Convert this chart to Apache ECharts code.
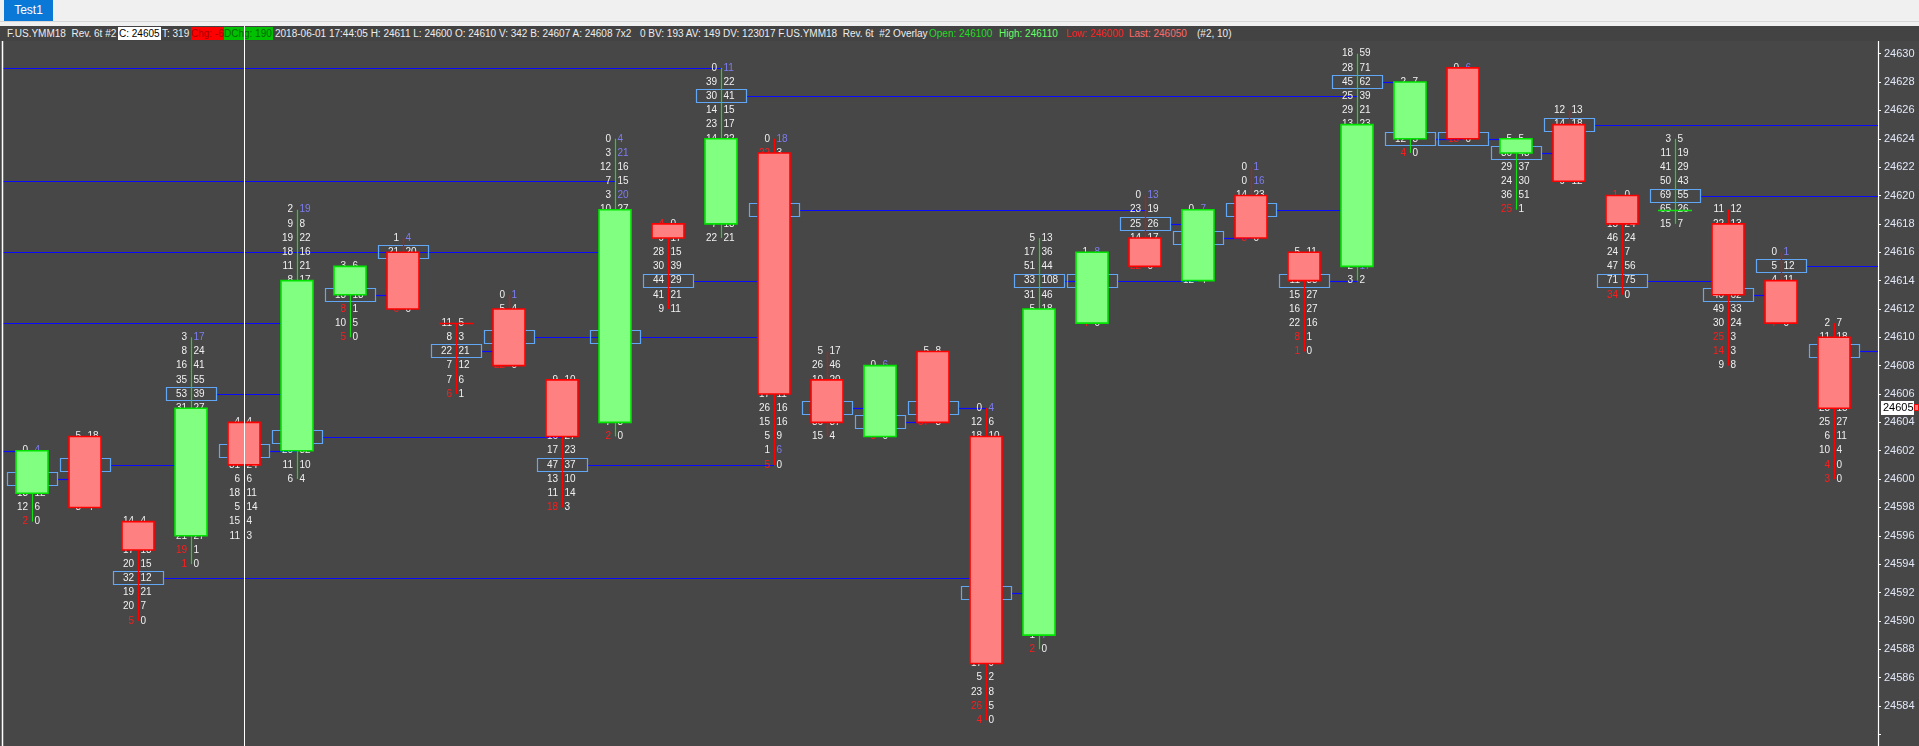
<!DOCTYPE html>
<html><head><meta charset="utf-8">
<script src="https://cdn.jsdelivr.net/npm/echarts@6/dist/echarts.min.js"></script>
<style>
html,body{margin:0;padding:0;background:#474747;overflow:hidden;width:1919px;height:746px}
#chart{position:absolute;left:0;top:0;width:1919px;height:746px}
#tabbar{position:absolute;left:0;top:0;width:1919px;height:26px;background:#f0f0f0;z-index:5}
#tabbar .ln{position:absolute;left:0;top:21px;width:1919px;height:1px;background:#d6d6d6}
#tab{position:absolute;left:4px;top:0;width:49px;height:21px;background:#0a78d7;color:#fff;font:12px 'Liberation Sans',Arial,sans-serif;line-height:21px;text-align:center}
#hdr{position:absolute;left:0;top:26px;width:1919px;height:15px;background:#434343;z-index:5;font:10px 'Liberation Sans',Arial,sans-serif;color:#ededed}
#hdr span{position:absolute;top:1px;height:13px;line-height:13px;white-space:pre}
#hdr .xh{position:absolute;left:244px;top:0;width:1px;height:15px;background:#fff}
</style>
</head><body>
<div id="chart"></div>
<div id="tabbar"><div class="ln"></div><div id="tab">Test1</div></div>
<div id="hdr">
<span style="left:7px">F.US.YMM18  Rev. 6t #2</span>
<span style="left:118px;width:42px;background:#fff;color:#000;padding-left:1px">C: 24605</span>
<span style="left:162px">T: 319</span>
<span style="left:191px;width:33px;background:#ff0000;color:#a80000">Chg: -6</span>
<span style="left:224px;width:49px;background:#00c000;color:#006a00">DChg: 190</span>
<span style="left:275px">2018-06-01 17:44:05 H: 24611 L: 24600 O: 24610 V: 342 B: 24607 A: 24608 7x2</span>
<span style="left:640px">0 BV: 193 AV: 149 DV: 123017 F.US.YMM18  Rev. 6t  #2 Overlay</span>
<span style="left:929px;color:#22dd22">Open: 246100</span>
<span style="left:999px;color:#66ff66">High: 246110</span>
<span style="left:1066px;color:#ff2020">Low: 246000</span>
<span style="left:1129px;color:#ff6a6a">Last: 246050</span>
<span style="left:1197px">(#2, 10)</span>
<div class="xh"></div>
</div>
<script>
const _ = null;
function gap(n){ return Array(n).fill(null); }

// ---- bar data (6-tick reversal bars) ----
const candleOpen  = [24599,24603,24597,24596,24604,24602,24613,24616,24611,24612,24607,24604,24618,24618,24623,24607,24603,24609,24603,24589,24611,24617,24614,24620,24616,24615,24624,24629,24623,24625,24620,24619,24618,24614,24610];
const candleClose = [24602,24598,24595,24605,24601,24614,24615,24612,24611,24608,24603,24619,24617,24624,24606,24604,24608,24604,24587,24612,24616,24615,24619,24617,24614,24625,24628,24624,24624,24621,24618,24619,24613,24611,24605];
const candleLow   = [24597,24598,24590,24594,24596,24600,24610,24612,24606,24608,24598,24603,24612,24617,24601,24603,24603,24604,24583,24588,24611,24615,24614,24617,24609,24614,24623,24624,24619,24621,24613,24618,24608,24611,24600];
const candleHigh  = [24602,24603,24597,24610,24604,24619,24615,24617,24611,24613,24607,24624,24618,24629,24624,24609,24608,24609,24605,24617,24616,24620,24619,24622,24616,24630,24628,24629,24624,24626,24620,24624,24619,24616,24611];
const barDirection = [1,-1,-1,1,-1,1,1,-1,-1,-1,-1,1,-1,1,-1,-1,1,-1,-1,1,1,-1,1,-1,-1,1,1,-1,1,-1,-1,1,-1,-1,-1];
const pocPrice    = [24600,24601,24593,24606,24602,24603,24613,24616,24609,24610,24601,24610,24614,24627,24619,24605,24604,24605,24592,24614,24614,24618,24617,24619,24614,24628,24624,24624,24623,24625,24614,24620,24613,24615,24609];

// footprint rows, from each bar's high downwards (null = hidden under the body)
const fpBid = [
 [0,_,_,13,12,2],
 [5,_,_,_,_,8],
 [14,_,17,20,32,19,20,5],
 [3,8,16,35,53,31,...gap(8),21,19,1],
 [4,_,_,31,6,18,5,15,11],
 [2,9,19,18,11,8,...gap(11),20,11,6],
 [3,_,13,8,10,5],
 [1,21,_,_,_,6],
 [11,8,22,7,7,6],
 [0,5,_,_,_,22],
 [9,_,_,_,16,17,47,13,11,18],
 [0,3,12,7,3,10,...gap(14),7,2],
 [4,9,28,30,44,41,9],
 [0,39,30,14,23,14,...gap(5),7,22],
 [0,22,...gap(16),17,26,15,5,1,5],
 [5,26,10,_,_,36,15],
 [0,_,_,_,_,3],
 [5,_,_,_,_,37],
 [0,12,18,...gap(15),17,5,23,26,4],
 [5,17,51,33,31,5,...gap(22),1,2],
 [1,_,_,_,_,4],
 [0,23,25,14,_,22],
 [0,_,_,_,_,12],
 [0,0,14,_,_,3],
 [5,_,11,15,16,22,8,1],
 [18,28,45,25,29,13,...gap(9),2,3],
 [2,_,_,_,12,4],
 [0,_,_,_,_,13],
 [5,30,29,24,36,25],
 [12,14,_,_,_,9],
 [1,_,15,46,24,47,71,34],
 [3,11,41,50,69,65,15],
 [11,22,_,_,_,_,40,49,30,25,14,9],
 [0,5,4,_,_,7],
 [2,11,_,_,_,_,25,25,6,10,4,3]
];
const fpAsk = [
 [4,_,_,12,6,0],
 [18,_,_,_,_,4],
 [4,_,18,15,12,21,7,0],
 [17,24,41,55,39,27,...gap(8),27,1,0],
 [4,_,_,24,6,11,14,4,3],
 [19,8,22,16,21,17,...gap(11),32,10,4],
 [6,_,18,1,5,0],
 [4,20,_,_,_,0],
 [5,3,21,12,6,1],
 [1,4,_,_,_,0],
 [10,_,_,_,27,23,37,10,14,3],
 [4,21,16,15,20,27,...gap(14),8,0],
 [0,17,15,39,29,21,11],
 [11,22,41,15,17,22,...gap(5),13,21],
 [18,3,...gap(16),11,16,16,9,6,0],
 [17,46,20,_,_,37,4],
 [6,_,_,_,_,0],
 [8,_,_,_,_,8],
 [4,6,10,...gap(15),9,2,8,5,0],
 [13,36,44,108,46,18,...gap(22),7,0],
 [8,_,_,_,_,0],
 [13,19,26,17,_,0],
 [7,_,_,_,_,4],
 [1,16,23,_,_,0],
 [11,_,33,27,27,16,1,0],
 [59,71,62,39,21,23,...gap(9),17,2],
 [7,_,_,_,5,0],
 [6,_,_,_,_,0],
 [5,43,37,30,51,1],
 [13,18,_,_,_,12],
 [0,_,24,24,7,56,75,0],
 [5,19,29,43,55,26,7],
 [12,13,_,_,_,_,62,33,24,3,3,8],
 [1,12,11,_,_,0],
 [7,18,_,_,_,_,15,27,11,4,0,0]
];

// naked POC lines: price, start bar (null = off-screen left), end bar (null = still open)
const nakedPrice = [24629,24621,24616,24611,24602,24600,24601,24593,24606,24602,24603,24613,24609,24610,24601,24610,24614,24627,24619,24605,24604,24605,24592,24614,24614,24618,24617,24619,24614,24628,24624,24624,24623,24625,24614,24620,24613,24615,24609];
const nakedFrom  = [_,_,_,_,_,0,1,2,3,4,5,6,8,9,10,11,12,13,14,15,16,17,18,19,20,21,22,23,24,25,26,27,28,29,30,31,32,33,34];
const nakedTo    = [13,11,11,5,0,1,3,18,5,5,10,7,9,11,14,14,14,25,21,16,17,18,19,20,22,22,23,25,25,26,27,28,29,_,32,_,33,_,_];

const lastPrice = 24605;
const crosshairBar = 4;
const priceMin = 24582, priceMax = 24632, priceStep = 2;

const FONT = '10px "Liberation Sans", Arial, sans-serif';
const imbalance = 4;

function txt(x, y, s, align, color){
  return {type:'text', x:x, y:y, silent:true,
    style:{text:s, fill:color, font:FONT, textAlign:align, textVerticalAlign:'middle', align:align, verticalAlign:'middle'}};
}

function renderLines(params, api){
  const j = api.value(2);
  const cs = params.coordSys;
  const y = Math.round(api.coord([0, nakedPrice[j]])[1]) + 0.5;
  const x1 = nakedFrom[j] == null ? cs.x + 3 : api.coord([nakedFrom[j], nakedPrice[j]])[0] + 25;
  const x2 = nakedTo[j] == null ? cs.x + cs.width : api.coord([nakedTo[j], nakedPrice[j]])[0];
  return {type:'line', shape:{x1:x1, y1:y, x2:x2, y2:y}, style:{stroke:'#0a0aff', lineWidth:1.2}};
}

function renderFootprint(params, api){
  const i = api.value(0);
  const cx = api.coord([i, candleHigh[i]])[0];
  const up = barDirection[i] > 0;
  const kids = [];
  const py = api.coord([i, pocPrice[i]])[1];
  kids.push({type:'rect', shape:{x:Math.round(cx - 25) + 0.5, y:Math.round(py - 7) + 0.5, width:50, height:13},
    style:{fill:null, stroke:'#62a7f6', lineWidth:1.2}});
  const bids = fpBid[i], asks = fpAsk[i];
  for (let k = 0; k < bids.length; k++){
    if (bids[k] == null) continue;
    const p = candleHigh[i] - k;
    const y = api.coord([i, p])[1];
    const b = bids[k], a = asks[k];
    const bc = (b > 0 && b >= imbalance * a) ? '#ff1c1c' : '#f0f0f0';
    const ac = (a > 0 && a >= imbalance * b) ? '#7d7df2' : '#f0f0f0';
    kids.push(txt(cx - 4, y, String(b), 'right', bc));
    kids.push(txt(cx + 2.5, y, String(a), 'left', ac));
  }
  const yh = api.coord([i, candleHigh[i]])[1];
  const yl = api.coord([i, candleLow[i]])[1];
  const xw = Math.round(cx) + 0.5;
  kids.push({type:'line', shape:{x1:xw, y1:yh, x2:xw, y2:yl}, style:{stroke: up ? '#10e010' : '#ff0000', lineWidth:1.2}});
  return {type:'group', children:kids};
}

function renderBodies(params, api){
  const i = api.value(0);
  const cx = api.coord([i, candleOpen[i]])[0];
  const up = barDirection[i] > 0;
  const yo = api.coord([i, candleOpen[i]])[1];
  const yc = api.coord([i, candleClose[i]])[1];
  if (candleOpen[i] === candleClose[i]){
    const y = Math.round(yo) + 0.5;
    return {type:'line', shape:{x1:cx - 17, y1:y, x2:cx + 17, y2:y}, style:{stroke: up ? '#10e010' : '#ff0000', lineWidth:1.5}};
  }
  const top = Math.min(yo, yc), bot = Math.max(yo, yc);
  return {type:'rect', shape:{x:Math.round(cx - 16), y:top, width:32, height:bot - top},
    style:{fill: up ? '#80ff80' : '#ff8080', stroke: up ? '#00e400' : '#ff0000', lineWidth:1.6}};
}

function renderOverlay(params, api){
  const cs = params.coordSys;
  const xc = Math.round(api.coord([crosshairBar, lastPrice])[0]) + 0.5;
  const y = api.coord([crosshairBar, lastPrice])[1];
  const xr = cs.x + cs.width;
  const x0 = xr + 3;
  return {type:'group', children:[
    {type:'line', shape:{x1:xc, y1:26, x2:xc, y2:746}, style:{stroke:'#ffffff', lineWidth:1}},
    {type:'line', shape:{x1:2.5, y1:26, x2:2.5, y2:746}, style:{stroke:'#ffffff', lineWidth:1.5}},
    {type:'line', shape:{x1:Math.round(xr) + 0.5, y1:cs.y + cs.height, x2:Math.round(xr) + 0.5, y2:746}, style:{stroke:'#ffffff', lineWidth:1.2}},
    {type:'rect', shape:{x:x0, y:Math.round(y) - 7, width:33, height:14}, style:{fill:'#ffffff'}},
    {type:'text', x:x0 + 2, y:y, style:{text:String(lastPrice), fill:'#000', font:'11px "Liberation Sans", Arial, sans-serif', textAlign:'left', textVerticalAlign:'middle', align:'left', verticalAlign:'middle'}},
    {type:'rect', shape:{x:x0 + 33.5, y:Math.round(y) - 3.5, width:4, height:6}, style:{fill:'#ff8080', stroke:'#ff0000', lineWidth:1}}
  ]};
}

const chart = echarts.init(document.getElementById('chart'), null, {renderer:'canvas'});
const barData = candleOpen.map((o, i) => [i, candleClose[i]]);
const lineData = nakedPrice.map((p, j) => [nakedFrom[j] == null ? 0 : nakedFrom[j], p, j]);

// 24630 sits at y≈53.7 and one point is ≈14.18 px
const gridTop = 25.34;
const gridHeight = (priceMax - priceMin) * 14.18;

chart.setOption({
  backgroundColor:'#474747',
  animation:false,
  grid:{left:0, right:41, top:gridTop, height:gridHeight, containLabel:false},
  xAxis:{type:'value', min:-0.6038, max:34.8302, show:false},
  yAxis:{type:'value', position:'right', min:priceMin, max:priceMax, interval:priceStep,
    axisLine:{show:true, onZero:false, lineStyle:{color:'#ffffff', width:1.2}},
    axisTick:{show:true, length:3, lineStyle:{color:'#ffffff'}},
    splitLine:{show:false},
    axisLabel:{color:'#e2e8f8', fontSize:11, fontFamily:'"Liberation Sans", Arial, sans-serif', margin:6,
      formatter:(v) => (v < 24584 || v > 24630) ? '' : String(v)}},
  series:[
    {type:'custom', z:2, renderItem:renderLines, data:lineData, encode:{x:0, y:1}, clip:false, silent:true},
    {type:'custom', z:3, renderItem:renderFootprint, data:barData, encode:{x:0, y:1}, clip:false, silent:true},
    {type:'custom', z:4, renderItem:renderBodies, data:barData, encode:{x:0, y:1}, clip:false, silent:true},
    {type:'custom', z:5, renderItem:renderOverlay, data:[[crosshairBar, lastPrice]], encode:{x:0, y:1}, clip:false, silent:true}
  ]
});
</script>
</body></html>
